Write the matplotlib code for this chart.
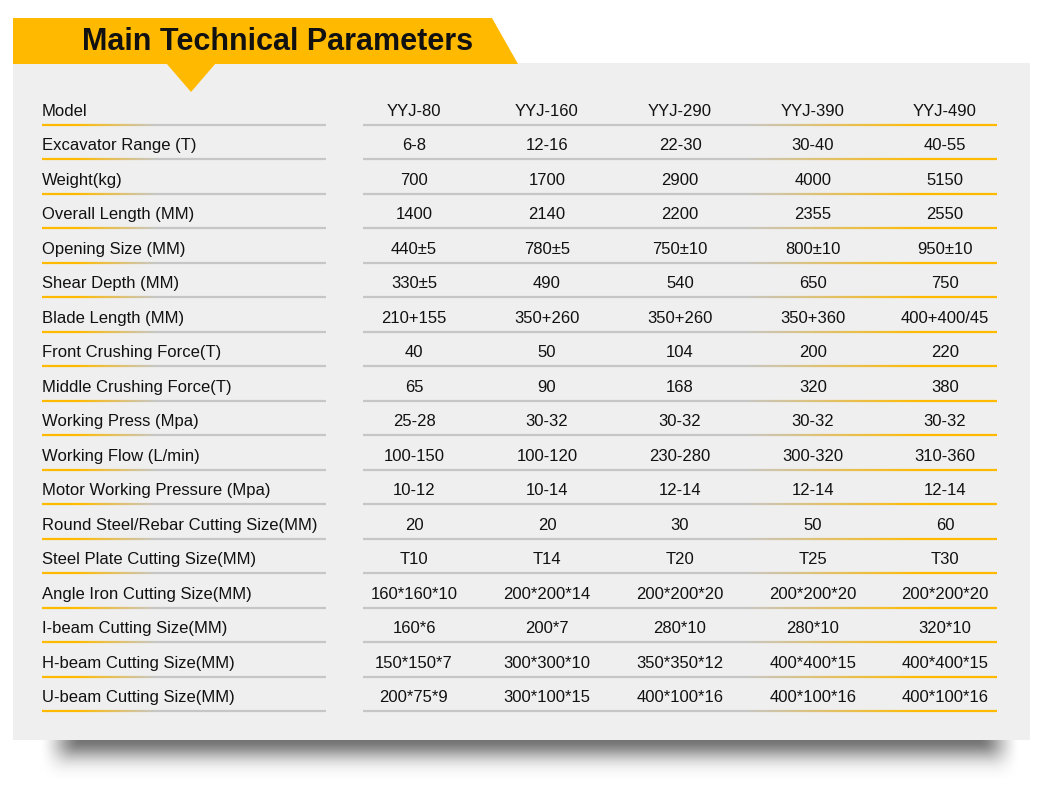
import numpy as np
import matplotlib.pyplot as plt
from matplotlib.patches import Polygon, Rectangle
from matplotlib.collections import LineCollection
from matplotlib.colors import to_rgb

plt.rcParams['font.family'] = ['Liberation Sans', 'DejaVu Sans']

title = "Main Technical Parameters"
models = ["YYJ-80", "YYJ-160", "YYJ-290", "YYJ-390", "YYJ-490"]
params = [
    "Excavator Range (T)", "Weight(kg)", "Overall Length (MM)",
    "Opening Size (MM)", "Shear Depth (MM)", "Blade Length (MM)",
    "Front Crushing Force(T)", "Middle Crushing Force(T)",
    "Working Press (Mpa)", "Working Flow (L/min)",
    "Motor Working Pressure (Mpa)", "Round Steel/Rebar Cutting Size(MM)",
    "Steel Plate Cutting Size(MM)", "Angle Iron Cutting Size(MM)",
    "I-beam Cutting Size(MM)", "H-beam Cutting Size(MM)",
    "U-beam Cutting Size(MM)",
]
yyj80 = ["6-8", "700", "1400", "440±5", "330±5", "210+155", "40", "65",
         "25-28", "100-150", "10-12", "20", "T10", "160*160*10", "160*6",
         "150*150*7", "200*75*9"]
yyj160 = ["12-16", "1700", "2140", "780±5", "490", "350+260", "50", "90",
          "30-32", "100-120", "10-14", "20", "T14", "200*200*14", "200*7",
          "300*300*10", "300*100*15"]
yyj290 = ["22-30", "2900", "2200", "750±10", "540", "350+260", "104", "168",
          "30-32", "230-280", "12-14", "30", "T20", "200*200*20", "280*10",
          "350*350*12", "400*100*16"]
yyj390 = ["30-40", "4000", "2355", "800±10", "650", "350+360", "200", "320",
          "30-32", "300-320", "12-14", "50", "T25", "200*200*20", "280*10",
          "400*400*15", "400*100*16"]
yyj490 = ["40-55", "5150", "2550", "950±10", "750", "400+400/45", "220", "380",
          "30-32", "310-360", "12-14", "60", "T30", "200*200*20", "320*10",
          "400*400*15", "400*100*16"]

W, H = 1042, 795
fig = plt.figure(figsize=(W / 100, H / 100), dpi=100)
ax = fig.add_axes([0, 0, 1, 1])
ax.set_xlim(0, W)
ax.set_ylim(H, 0)
ax.axis("off")

yellow = "#FFBA00"
gray = "#C6C6C6"

# soft shadow under the panel
sx = np.linspace(-1, 1, 500)
sy = np.linspace(0, 1, 80)
gx, gy = np.meshgrid(sx, sy)
edge = np.clip((1 - np.abs(gx)) / (0.07 * (1 - 0.6 * gy) + 0.02), 0, 1)
edge = edge * edge * (3 - 2 * edge)
fade = np.exp(-(gy / 0.5) ** 2)
shadow = np.zeros((80, 500, 4))
shadow[..., 3] = edge * fade * 0.55
ax.imshow(shadow, extent=(38, 1022, 778, 739), zorder=1, interpolation="bilinear")

# panel
ax.add_patch(Rectangle((13, 63), 1017, 677, facecolor="#EFEFEF", edgecolor="none", zorder=2))

# banner and pointer
ax.add_patch(Polygon([(13, 18), (492, 18), (518, 64), (13, 64)], closed=True,
                     facecolor=yellow, edgecolor="none", zorder=3))
ax.add_patch(Polygon([(166, 63), (216, 63), (191, 92)], closed=True,
                     facecolor=yellow, edgecolor="none", zorder=3))
ax.text(278, 42, title, fontsize=22, fontweight="bold", color="#111111",
        ha="center", va="center", zorder=4)


def grad_line(x0, x1, y, stops):
    xs = np.linspace(x0, x1, 200)
    segs = [[(xs[i], y), (xs[i + 1], y)] for i in range(len(xs) - 1)]
    pos = [p for p, c in stops]
    cols = np.array([to_rgb(c) for p, c in stops])
    t = (xs[:-1] - x0) / (x1 - x0)
    rgb = np.column_stack([np.interp(t, pos, cols[:, k]) for k in range(3)])
    ax.add_collection(LineCollection(segs, colors=rgb, linewidths=1.6, zorder=4))


columns = [yyj80, yyj160, yyj290, yyj390, yyj490]
col_x = [414, 547, 680, 813, 945]
row0, step = 110, 34.47
labels = ["Model"] + params
rows = [models] + [[c[i] for c in columns] for i in range(len(params))]

for r, (lab, vals) in enumerate(zip(labels, rows)):
    y = row0 + r * step
    ax.text(42, y + 1.5, lab, fontsize=12, color="#111111", ha="left", va="center", zorder=5)
    for x, v in zip(col_x, vals):
        ax.text(x, y + 1.5, v, fontsize=12, color="#111111", ha="center", va="center", zorder=5)
    ly = y + 15
    grad_line(42, 326, ly, [(0, yellow), (0.12, yellow), (0.4, gray), (1, gray)])
    grad_line(363, 997, ly, [(0, gray), (0.6, gray), (0.88, yellow), (1, yellow)])

fig.savefig("out.png", dpi=100, facecolor="white")
